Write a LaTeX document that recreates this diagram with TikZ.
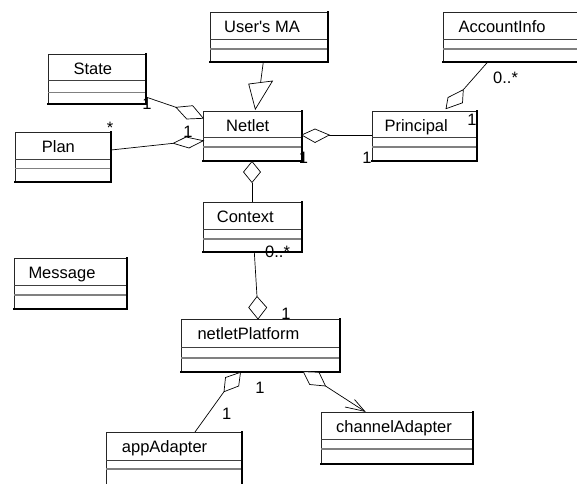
\documentclass[tikz,border=0pt]{standalone}
\usepackage{fontspec}
\setmainfont{Liberation Sans}
\usetikzlibrary{fit}

\tikzset{
  classbox/.style={draw=black!85, line width=0.7pt, inner sep=0pt},
  shadowedge/.style={draw=black, line width=1.8pt, line cap=rect},
  divA/.style={draw=black!75, line width=0.8pt},
  divB/.style={draw=black!50, line width=1.4pt},
  classtitle/.style={inner sep=0pt, anchor=base west, font=\fontsize{16.5}{19}\selectfont},
  mult/.style={inner sep=0pt, anchor=base, font=\fontsize{16.5}{19}\selectfont},
  multw/.style={inner sep=0pt, anchor=base west, font=\fontsize{16.5}{19}\selectfont},
  conn/.style={draw=black, line width=0.7pt},
  tipshape/.style={draw=black, line width=0.7pt, fill=white, line join=miter},
}

% class box: name, x0, y0, x1, y1, first divider, second divider, title, title x
\newcommand{\umlclass}[9]{%
  \coordinate (#1-nw) at (#2,#3);
  \coordinate (#1-se) at (#4,#5);
  \node[classbox, fit=(#1-nw)(#1-se)] (#1) {};
  \draw[divA] (#2,#6) -- (#4,#6);
  \draw[divB] (#2,#7) -- (#4,#7);
  \draw[shadowedge] (#1.south west) -- (#1.south east) -- (#1.north east);
  \node[classtitle] (#1-title) at (#9,#3+20.5) {#8};
}

\begin{document}
\begin{tikzpicture}[x=1pt, y=-1pt]
\useasboundingbox (0,0) rectangle (577,483);
\clip (0,0) rectangle (577,483);
\fill[white] (0,0) rectangle (577,483);

% classes
\umlclass{usersma}{210}{12}{328}{62}{39}{49}{User\textquotesingle s MA}{224}
\umlclass{state}{48}{54}{146}{104}{80}{92.7}{State}{73.3}
\umlclass{netlet}{203}{111}{302}{161}{137}{147}{Netlet}{226}
\umlclass{plan}{15}{132}{111}{182}{159}{168.3}{Plan}{41.7}
\umlclass{principal}{372}{111}{477}{161}{137}{147}{Principal}{384.3}
\umlclass{accountinfo}{443}{12}{590}{62}{39}{49}{AccountInfo}{458.3}
\umlclass{context}{203}{202}{302}{252}{229}{239}{Context}{216.7}
\umlclass{message}{14}{258}{127}{309}{285}{295}{Message}{28.3}
\umlclass{platform}{181}{319}{340}{372}{347}{358}{netletPlatform}{197.3}
\umlclass{appadapter}{106}{432}{242}{500}{460}{469}{appAdapter}{121.7}
\umlclass{channeladapter}{321}{412}{473}{464}{439}{449}{channelAdapter}{336}

% generalization: User's MA -> Netlet
\coordinate (gStart) at (263.3,62);
\coordinate (gA) at (248.7,84);
\coordinate (gB) at (272.5,81);
\coordinate (gTip) at (255.3,109.2);
\coordinate (gBase) at (260.6,82.5);
\draw[conn] (gStart) -- (gBase);
\draw[tipshape] (gA) -- (gB) -- (gTip) -- cycle;

% aggregation: State -> Netlet
\coordinate (sStart) at (146.7,97.3);
\coordinate (sD1) at (176,107.3);
\coordinate (sD2) at (192.7,105.7);
\coordinate (sD3) at (203.3,118.3);
\coordinate (sD4) at (186.7,119);
\draw[conn] (sStart) -- (sD1);
\draw[tipshape] (sD1) -- (sD2) -- (sD3) -- (sD4) -- cycle;

% aggregation: Plan -> Netlet
\coordinate (pStart) at (111,150);
\coordinate (pD1) at (173.3,143.3);
\coordinate (pD2) at (186,137);
\coordinate (pD3) at (203.3,140.7);
\coordinate (pD4) at (189,148);
\draw[conn] (pStart) -- (pD1);
\draw[tipshape] (pD1) -- (pD2) -- (pD3) -- (pD4) -- cycle;

% aggregation: Principal -> Netlet
\coordinate (nD1) at (301.7,135);
\coordinate (nD2) at (315,129);
\coordinate (nD3) at (329.3,135);
\coordinate (nD4) at (315,142.5);
\coordinate (prEnd) at (372,135);
\draw[conn] (nD3) -- (prEnd);
\draw[tipshape] (nD1) -- (nD2) -- (nD3) -- (nD4) -- cycle;

% aggregation: AccountInfo -> Principal
\coordinate (aStart) at (487.7,62);
\coordinate (aD1) at (463.3,89.7);
\coordinate (aD2) at (448,97.5);
\coordinate (aD3) at (446,108.7);
\coordinate (aD4) at (462.5,102.8);
\draw[conn] (aStart) -- (aD1);
\draw[tipshape] (aD1) -- (aD2) -- (aD3) -- (aD4) -- cycle;

% aggregation: Context -> Netlet
\coordinate (cD1) at (252,161.5);
\coordinate (cD2) at (260.5,172);
\coordinate (cD3) at (252,182.5);
\coordinate (cD4) at (243.5,172);
\coordinate (cxEnd) at (252,202);
\draw[conn] (cD3) -- (cxEnd);
\draw[tipshape] (cD1) -- (cD2) -- (cD3) -- (cD4) -- cycle;

% aggregation: Context -> netletPlatform
\coordinate (kStart) at (254.3,252);
\coordinate (kD1) at (257,296.5);
\coordinate (kD2) at (266.7,307.5);
\coordinate (kD3) at (258,319);
\coordinate (kD4) at (248.7,307.5);
\draw[conn] (kStart) -- (kD1);
\draw[tipshape] (kD1) -- (kD2) -- (kD3) -- (kD4) -- cycle;

% aggregation: netletPlatform -> appAdapter
\coordinate (eD1) at (240.5,372.3);
\coordinate (eD2) at (225.5,377.5);
\coordinate (eD3) at (224,391.7);
\coordinate (eD4) at (238.7,386);
\coordinate (apEnd) at (195,432);
\draw[conn] (eD3) -- (apEnd);
\draw[tipshape] (eD1) -- (eD2) -- (eD3) -- (eD4) -- cycle;

% navigable aggregation: netletPlatform -> channelAdapter
\coordinate (hD1) at (303.3,371.7);
\coordinate (hD2) at (319,372.3);
\coordinate (hD3) at (325.5,386);
\coordinate (hD4) at (309.7,384.5);
\coordinate (hTip) at (364.7,411.3);
\coordinate (hBarbA) at (345,407);
\coordinate (hBarbB) at (354.5,399.5);
\draw[conn] (hD3) -- (hTip);
\draw[conn] (hBarbA) -- (hTip) -- (hBarbB);
\draw[tipshape] (hD1) -- (hD2) -- (hD3) -- (hD4) -- cycle;

% multiplicities
\node[mult] (mState) at (147,109.5) {1};
\node[mult] (mStateN) at (188,137.5) {1};
\node[mult] (mPlan) at (110,133) {*};
\node[mult] (mNetR) at (303.5,163) {1};
\node[mult] (mPrL) at (367,163) {1};
\node[mult] (mPrT) at (472,125) {1};
\node[multw] (mAcc) at (493,83) {0..*};
\node[multw] (mCtx) at (265,257.5) {0..*};
\node[mult] (mPlT) at (286,319.5) {1};
\node[mult] (mPlB) at (260,393) {1};
\node[mult] (mApp) at (226.7,419) {1};
\end{tikzpicture}
\end{document}
